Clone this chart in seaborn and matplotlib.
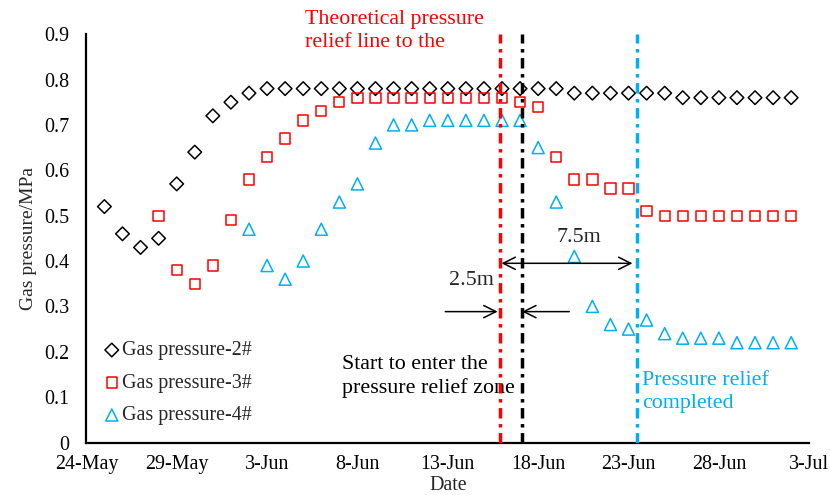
import pandas as pd
import numpy as np
import matplotlib
matplotlib.use('Agg')
import matplotlib.pyplot as plt
import matplotlib.dates as mdates
import seaborn as sns

# ---------------------------------------------------------
# Data: daily gas pressure readings (MPa)
# ---------------------------------------------------------
axis_start = '2021-05-24'
axis_end = '2021-07-03'

p2_start = '2021-05-25'
p2_values = [0.52, 0.46, 0.43, 0.45, 0.57, 0.64, 0.72, 0.75, 0.77,
             0.78, 0.78, 0.78, 0.78, 0.78, 0.78, 0.78, 0.78, 0.78,
             0.78, 0.78, 0.78, 0.78, 0.78, 0.78, 0.78, 0.78,
             0.77, 0.77, 0.77, 0.77, 0.77, 0.77,
             0.76, 0.76, 0.76, 0.76, 0.76, 0.76, 0.76]

p3_start = '2021-05-28'
p3_values = [0.50, 0.38, 0.35, 0.39, 0.49, 0.58, 0.63, 0.67, 0.71, 0.73, 0.75,
             0.76, 0.76, 0.76, 0.76, 0.76, 0.76, 0.76, 0.76, 0.76,
             0.75, 0.74, 0.63, 0.58, 0.58, 0.56, 0.56, 0.51,
             0.50, 0.50, 0.50, 0.50, 0.50, 0.50, 0.50, 0.50]

p4_start = '2021-06-02'
p4_values = [0.47, 0.39, 0.36, 0.40, 0.47, 0.53, 0.57, 0.66, 0.70, 0.70,
             0.71, 0.71, 0.71, 0.71, 0.71, 0.71,
             0.65, 0.53, 0.41, 0.30, 0.26, 0.25, 0.27, 0.24, 0.23, 0.23, 0.23,
             0.22, 0.22, 0.22, 0.22]

series_labels = ['Gas pressure-2#', 'Gas pressure-3#', 'Gas pressure-4#']
series_colors = ['black', '#FF0000', '#00B0F0']
series_markers = ['D', 's', '^']
series_sizes = [48, 55, 75]

tick_dates = pd.date_range(axis_start, axis_end, freq='5D')

# vertical marker lines (days after axis start)
red_day, black_day, blue_day = 22.91, 24.12, 30.47

# ---------------------------------------------------------
# Plot
# ---------------------------------------------------------
sns.set_style('white')
plt.rcParams['font.family'] = ['Liberation Serif', 'DejaVu Serif']
plt.rcParams['mathtext.fontset'] = 'stix'

fig, ax = plt.subplots(figsize=(8.3, 4.95), dpi=100)
fig.subplots_adjust(left=0.104, right=0.975, bottom=0.106, top=0.931)

all_series = [(p2_start, p2_values), (p3_start, p3_values), (p4_start, p4_values)]
for (start, vals), lab, col, mk, sz in zip(all_series, series_labels, series_colors,
                                           series_markers, series_sizes):
    df = pd.DataFrame({'Date': pd.date_range(start, periods=len(vals), freq='D'),
                       'Pressure': vals})
    sns.scatterplot(data=df, x='Date', y='Pressure', ax=ax, marker=mk, s=sz,
                    color=col, facecolors='none', edgecolors=col,
                    linewidths=1.1, label=lab, zorder=3)

x0 = mdates.date2num(pd.Timestamp(axis_start))
ax.set_xlim(x0, mdates.date2num(pd.Timestamp(axis_end)))
ax.set_ylim(0, 0.9)
ax.set_xticks(tick_dates)
ax.xaxis.set_major_formatter(mdates.DateFormatter('%-d-%b'))
ax.set_yticks(np.arange(0, 0.91, 0.1))
ax.yaxis.set_major_formatter(plt.FuncFormatter(lambda v, p: '0' if abs(v) < 1e-9 else f'{v:.1f}'))

for s in ['top', 'right']:
    ax.spines[s].set_visible(False)
for s in ['left', 'bottom']:
    ax.spines[s].set_color('black')
    ax.spines[s].set_linewidth(1.6)
ax.tick_params(axis='both', direction='out', length=4, width=1.2, colors='black',
               labelsize=14.4)
ax.tick_params(axis='y', pad=8)
ax.tick_params(axis='x', pad=5)
ax.set_xlabel('Date', fontsize=14.4, labelpad=1.5)
ax.set_ylabel('Gas pressure/MPa', fontsize=14, labelpad=5)

# vertical dash-dot lines
dashdot = (0, (3, 1.6, 1, 1.6))
ax.axvline(x0 + red_day, color='#FF0000', lw=2.5, linestyle=dashdot, zorder=4)
ax.axvline(x0 + black_day, color='black', lw=2.5, linestyle=dashdot, zorder=4)
ax.axvline(x0 + blue_day, color='#00B0F0', lw=2.5, linestyle=dashdot, zorder=4)

# annotation texts
ax.text(x0 + 12.08, 0.953, 'Theoretical pressure\nrelief line to the', color='#FF0000',
        fontsize=15.8, ha='left', va='top', linespacing=1.3, clip_on=False)
ax.text(x0 + 14.13, 0.145, 'Start to enter the\npressure relief zone', color='black',
        fontsize=15.8, ha='left', va='center', linespacing=1.3)
ax.text(x0 + 30.74, 0.111, 'Pressure relief\ncompleted', color='#00B0F0',
        fontsize=15.8, ha='left', va='center', linespacing=1.3)
ax.text(x0 + 21.31, 0.358, '2.5m', fontsize=15.8, ha='center', va='center')
ax.text(x0 + 27.25, 0.451, '7.5m', fontsize=15.8, ha='center', va='center')

# arrows
arrow_kw = dict(arrowstyle='->', color='black', lw=1.1, mutation_scale=22,
                shrinkA=0, shrinkB=0)
ax.annotate('', xy=(x0 + 22.97, 0.395), xytext=(x0 + 30.22, 0.395),
            arrowprops=dict(arrowstyle='<->', color='black', lw=1.1, mutation_scale=22,
                            shrinkA=0, shrinkB=0))
ax.annotate('', xy=(x0 + 22.76, 0.2885), xytext=(x0 + 19.86, 0.2885), arrowprops=arrow_kw)
ax.annotate('', xy=(x0 + 24.11, 0.2885), xytext=(x0 + 26.72, 0.2885), arrowprops=arrow_kw)

ax.legend(loc='upper left', bbox_to_anchor=(0.0255, 0.248), frameon=False,
          fontsize=14.4, handlelength=0.7, handletextpad=0.15, labelspacing=0.675,
          borderpad=0, borderaxespad=0, scatterpoints=1)

plt.savefig('out.png', dpi=100)
plt.close()
